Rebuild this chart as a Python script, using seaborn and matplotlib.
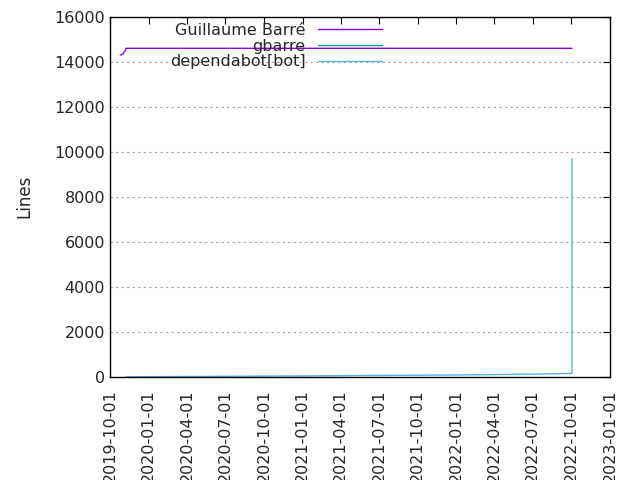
import pandas as pd
import seaborn as sns
import matplotlib.pyplot as plt
import matplotlib.dates as mdates

sns.set_style('white')
plt.rcParams['font.family'] = ['DejaVu Sans']

# Guillaume Barré
gb_dates = ['2019-10-25', '2019-11-01', '2019-11-04', '2019-11-06', '2019-11-08', '2020-06-01', '2021-06-01', '2022-10-03']
gb_lines = [14300, 14350, 14450, 14500, 14600, 14600, 14600, 14600]
# gbarre
gr_dates = ['2022-10-03']
gr_lines = [14600]
# dependabot[bot]
db_dates = ['2019-11-08', '2020-06-01', '2021-01-01', '2021-06-01', '2022-01-01', '2022-06-01', '2022-10-01', '2022-10-03', '2022-10-03']
db_lines = [0, 20, 40, 60, 80, 110, 150, 150, 9700]

frames = []
for name, d, v in [('Guillaume Barré', gb_dates, gb_lines), ('gbarre', gr_dates, gr_lines),
                   ('dependabot[bot]', db_dates, db_lines)]:
    frames.append(pd.DataFrame({'date': pd.to_datetime(d), 'lines': v, 'author': name}))
df = pd.concat(frames, ignore_index=True)

fig = plt.figure(figsize=(6.4, 4.8), dpi=100)
ax = fig.add_axes([0.172, 0.215, 0.781, 0.75])
palette = {'Guillaume Barré': '#9400d3', 'gbarre': '#009e73', 'dependabot[bot]': '#56b4e9'}
sns.lineplot(data=df, x='date', y='lines', hue='author', palette=palette, ax=ax,
             estimator=None, sort=False, linewidth=1)

ax.set_xlim(pd.Timestamp('2019-10-01'), pd.Timestamp('2023-01-01'))
ax.set_ylim(0, 16000)
ax.set_yticks(range(0, 16001, 2000))
ticks = pd.date_range('2019-10-01', '2023-01-01', freq='3MS')
ax.set_xticks(ticks)
ax.xaxis.set_major_formatter(mdates.DateFormatter('%Y-%m-%d'))
plt.setp(ax.get_xticklabels(), rotation=90)
ax.tick_params(direction='in', top=True, right=True, length=5, labelsize=11.5, color='black')
ax.tick_params(axis='x', pad=9)
ax.set_xlabel('')
ax.set_ylabel('Lines', fontsize=12, labelpad=15)
ax.yaxis.grid(True, linestyle=(0, (2, 3)), color='#a0a0a0', linewidth=0.8)
for s in ax.spines.values():
    s.set_color('black')
    s.set_linewidth(1)

leg = ax.legend(title=None, loc='upper left', bbox_to_anchor=(0.1, 1.01), frameon=False,
                fontsize=11.5, markerfirst=False, handlelength=4, labelspacing=0.05,
                borderaxespad=0.2)
for t in leg.get_texts():
    t.set_ha('right')
leg._legend_box.align = 'right'
fig.savefig('out.png', dpi=100)
